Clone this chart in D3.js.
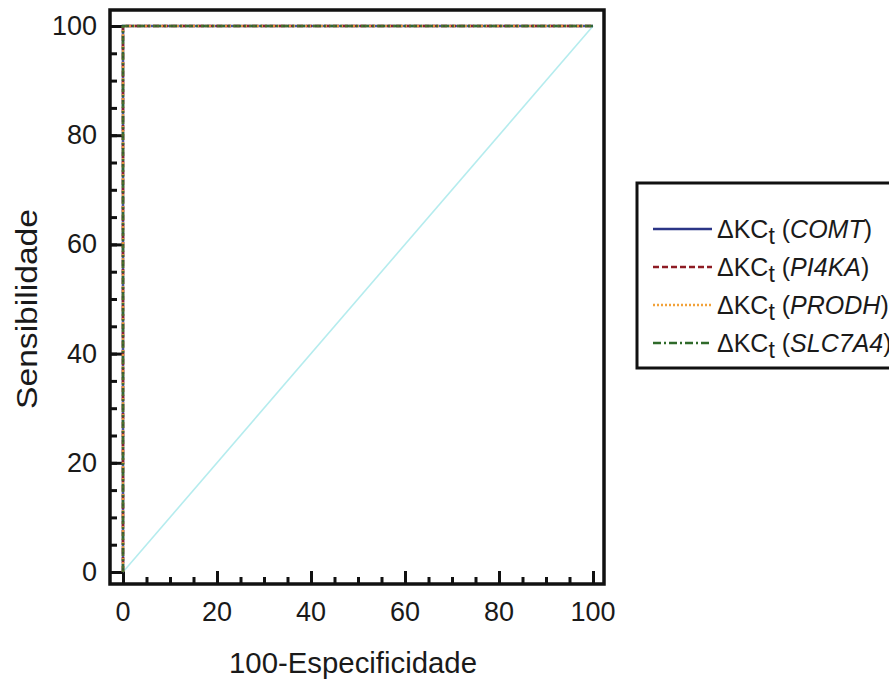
<!DOCTYPE html>
<html>
<head>
<meta charset="utf-8">
<script src="https://cdn.jsdelivr.net/npm/d3@7"></script>
<style>
  html, body { margin: 0; padding: 0; background: #fff; }
  svg { display: block; font-family: "Liberation Sans", Arial, sans-serif; }
</style>
</head>
<body>
<svg id="chart" width="889" height="679"></svg>
<script>
// ROC curves (100-specificity vs sensitivity), one per gene
const genes = ["COMT", "PI4KA", "PRODH", "SLC7A4"];
const fprValues = [0, 0, 100];
const tprValues = [0, 100, 100];
const seriesColors = ["#2b3586", "#8e1c24", "#f2a23a", "#2f6a2a"];
const seriesDash = ["none", "6,3", "2,2", "8,3,2,3"];
const majorTicks = [0, 20, 40, 60, 80, 100];
const minorTicks = d3.range(0, 101, 5);
const diagonal = [[0, 0], [100, 100]];

const svg = d3.select("#chart");

const x = d3.scaleLinear().domain([0, 100]).range([123, 593]);
const y = d3.scaleLinear().domain([0, 100]).range([572, 26]);

const ink = "#1a1a1a";

// plot frame
const frame = { x0: 110, y0: 10, x1: 604, y1: 584 };
svg.append("rect")
  .attr("x", frame.x0).attr("y", frame.y0)
  .attr("width", frame.x1 - frame.x0).attr("height", frame.y1 - frame.y0)
  .attr("fill", "none").attr("stroke", "#111").attr("stroke-width", 3.5);

// inward ticks on bottom and left
const bottomMinor = d3.axisTop(x).tickValues(minorTicks).tickSize(7).tickFormat("");
const bottomMajor = d3.axisTop(x).tickValues(majorTicks).tickSize(13).tickFormat("");
const leftMinor = d3.axisRight(y).tickValues(minorTicks).tickSize(7).tickFormat("");
const leftMajor = d3.axisRight(y).tickValues(majorTicks).tickSize(13).tickFormat("");

[bottomMinor, bottomMajor].forEach(ax => {
  const g = svg.append("g").attr("transform", `translate(0,${frame.y1})`).call(ax);
  g.select(".domain").remove();
  g.selectAll("line").attr("stroke", "#111").attr("stroke-width", 3);
});
[leftMinor, leftMajor].forEach(ax => {
  const g = svg.append("g").attr("transform", `translate(${frame.x0},0)`).call(ax);
  g.select(".domain").remove();
  g.selectAll("line").attr("stroke", "#111").attr("stroke-width", 3);
});

// tick labels
svg.append("g").selectAll("text").data(majorTicks).join("text")
  .attr("x", d => x(d)).attr("y", 612)
  .attr("text-anchor", "middle").attr("dominant-baseline", "central")
  .attr("font-size", 27).attr("fill", ink)
  .text(d => d);
svg.append("g").selectAll("text").data(majorTicks).join("text")
  .attr("x", 97).attr("y", d => y(d))
  .attr("text-anchor", "end").attr("dominant-baseline", "central")
  .attr("font-size", 27).attr("fill", ink)
  .text(d => d);

// axis titles
svg.append("text")
  .attr("x", 353).attr("y", 663)
  .attr("text-anchor", "middle").attr("dominant-baseline", "central")
  .attr("font-size", 29).attr("fill", ink)
  .attr("textLength", 248).attr("lengthAdjust", "spacingAndGlyphs")
  .text("100-Especificidade");
svg.append("text")
  .attr("transform", "translate(27,309) rotate(-90)")
  .attr("text-anchor", "middle").attr("dominant-baseline", "central")
  .attr("font-size", 29).attr("fill", ink)
  .attr("textLength", 200).attr("lengthAdjust", "spacingAndGlyphs")
  .text("Sensibilidade");

// chance diagonal
const line = d3.line().x(d => x(d[0])).y(d => y(d[1]));
svg.append("path")
  .attr("d", line(diagonal))
  .attr("fill", "none").attr("stroke", "#b5ecee").attr("stroke-width", 1.6);

// ROC curves
const rocPoints = fprValues.map((f, i) => [f, tprValues[i]]);
genes.forEach((g, i) => {
  svg.append("path")
    .attr("d", line(rocPoints))
    .attr("fill", "none")
    .attr("stroke", seriesColors[i])
    .attr("stroke-width", 2.6)
    .attr("stroke-dasharray", seriesDash[i])
    .attr("opacity", 0.85);
});

// legend
const legend = svg.append("g");
legend.append("rect")
  .attr("x", 637).attr("y", 183).attr("width", 300).attr("height", 185)
  .attr("fill", "#fff").attr("stroke", "#111").attr("stroke-width", 3);

const rowY = [229, 267, 305, 343];
genes.forEach((g, i) => {
  legend.append("line")
    .attr("x1", 653).attr("x2", 712)
    .attr("y1", rowY[i]).attr("y2", rowY[i])
    .attr("stroke", seriesColors[i]).attr("stroke-width", 2.4)
    .attr("stroke-dasharray", seriesDash[i]);
  const t = legend.append("text")
    .attr("x", 717).attr("y", rowY[i])
    .attr("dominant-baseline", "central")
    .attr("font-size", 25).attr("fill", ink);
  t.append("tspan").text("ΔKC");
  t.append("tspan").attr("font-size", 23).attr("dy", 7).text("t");
  t.append("tspan").attr("dy", -7).text(" (");
  t.append("tspan").attr("font-style", "italic").text(g);
  t.append("tspan").text(")");
});
</script>
</body>
</html>
